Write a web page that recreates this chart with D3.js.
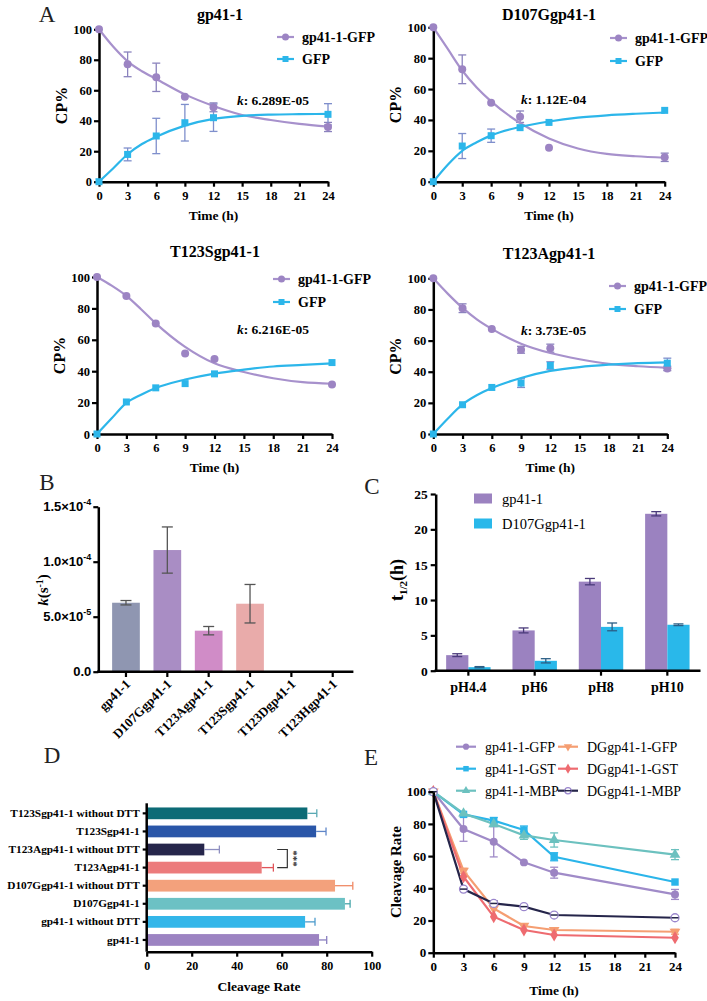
<!DOCTYPE html>
<html>
<head>
<meta charset="utf-8">
<script src="https://cdn.jsdelivr.net/npm/d3@7"></script>
<style>body{margin:0;background:#fff}</style>
</head>
<body>
<script>
// ---------- data ----------
let timePts = [0, 3, 6, 9, 12, 24];
let fitTimes = [0, 1.5, 3, 4.5, 6, 9, 12, 15, 18, 21, 24];
let timeTicks = [0, 3, 6, 9, 12, 15, 18, 21, 24];
let cpTicks = [0, 20, 40, 60, 80, 100];
let aSeriesNames = ['gp41-1-GFP', 'GFP'];

// A: gp41-1
let wtFusion = [100, 77, 68.5, 55.8, 48.8, 35.9];
let wtFusionErr = [0, 8.1, 9.3, 0, 2.9, 3.0];
let wtGfp = [0, 17.9, 30, 38.7, 42, 44.2];
let wtGfpErr = [0, 4.2, 11.6, 12, 9, 7];
let wtFusionFit = [100, 88.5, 79, 72.5, 67.4, 57.3, 49.7, 43.8, 40.5, 37.9, 36.1];
let wtGfpFit = [0, 8.8, 18, 24.7, 29.5, 36.8, 41.2, 43.2, 44, 44.3, 44.5];

// A: D107Ggp41-1
let d107Fusion = [100, 72.8, 51.2, 42.1, 22, 15.8];
let d107FusionErr = [0, 9.3, 0, 3.7, 0, 2.7];
let d107Gfp = [0, 23.1, 29.8, 35, 38.4, 46.2];
let d107GfpErr = [0, 8.1, 4.3, 0, 0, 0];
let d107FusionFit = [100, 86, 72, 61, 52, 38, 28, 21.5, 18, 16.5, 15.5];
let d107GfpFit = [0, 11, 20, 25.5, 30, 35.5, 39, 41.5, 43, 44, 44.8];

// A: T123Sgp41-1
let t123sFusion = [100, 87.9, 70.4, 51.3, 47.7, 31.5];
let t123sFusionErr = [0, 0, 0, 0, 0, 0];
let t123sGfp = [0, 20.4, 29.4, 32.1, 38.3, 45.5];
let t123sGfpErr = [0, 0, 0, 0, 0, 0];
let t123sFusionFit = [100, 94.5, 88, 79.5, 70.5, 55.5, 45, 39.5, 35.5, 33, 32];
let t123sGfpFit = [0, 10, 19.8, 25, 29.3, 34.7, 38.5, 41, 43, 44, 45];

// A: T123Agp41-1
let t123aFusion = [100, 80.8, 67.5, 54.1, 55.1, 42.1];
let t123aFusionErr = [0, 2.8, 0, 2.2, 2.6, 1.4];
let t123aGfp = [0, 18.8, 29.9, 32.7, 44, 45.5];
let t123aGfpErr = [0, 0, 0, 2.8, 2.4, 3.2];
let t123aFusionFit = [100, 90, 81, 73.5, 67.5, 58, 52, 48, 45, 43.5, 42.5];
let t123aGfpFit = [0, 10, 19, 25, 29.5, 36, 40.5, 43, 44.5, 45.5, 46];

let aTitles = ['gp41-1', 'D107Ggp41-1', 'T123Sgp41-1', 'T123Agp41-1'];
let aKValues = ['6.289E-05', '1.12E-04', '6.216E-05', '3.73E-05'];

// B
let bVariants = ['gp41-1', 'D107Ggp41-1', 'T123Agp41-1', 'T123Sgp41-1', 'T123Dgp41-1', 'T123Hgp41-1'];
let bK = [6.27e-5, 1.106e-4, 3.73e-5, 6.18e-5, 0, 0];
let bKErr = [0.2e-5, 2.1e-5, 0.38e-5, 1.75e-5, 0, 0];
let bTicks = [0, 5e-5, 1e-4, 1.5e-4];
let bTickMant = ['0.0', '5.0×10', '1.0×10', '1.5×10'];
let bTickExp = ['', '-5', '-4', '-4'];

// C
let cPh = ['pH4.4', 'pH6', 'pH8', 'pH10'];
let cGroups = ['gp41-1', 'D107Ggp41-1'];
let cWt = [2.2, 5.7, 12.6, 22.2];
let cWtErr = [0.2, 0.35, 0.45, 0.3];
let cD107 = [0.5, 1.4, 6.2, 6.5];
let cD107Err = [0.08, 0.3, 0.55, 0.12];
let cTicks = [0, 5, 10, 15, 20, 25];

// D
let dLabels = ['T123Sgp41-1 without DTT', 'T123Sgp41-1', 'T123Agp41-1 without DTT', 'T123Agp41-1',
               'D107Ggp41-1 without DTT', 'D107Ggp41-1', 'gp41-1 without DTT', 'gp41-1'];
let dRates = [71.4, 75.3, 25.6, 51.1, 83.7, 88.1, 70.4, 76.6];
let dErr = [4.2, 4.4, 6.7, 5.2, 7.9, 2.3, 4.4, 3.4];
let dTicks = [0, 20, 40, 60, 80, 100];

// E
let eNames = ['gp41-1-GFP', 'gp41-1-GST', 'gp41-1-MBP', 'DGgp41-1-GFP', 'DGgp41-1-GST', 'DGgp41-1-MBP'];
let eGfp = [100, 76.8, 68.9, 56.1, 49.7, 36.2];
let eGfpErr = [0, 7.6, 9.4, 0, 3.4, 3.1];
let eGst = [100, 85.9, 82, 76.2, 59.6, 43.9];
let eGstErr = [0, 0, 2, 2.5, 2.5, 0];
let eMbp = [100, 86.5, 79.9, 72.9, 70, 60.9];
let eMbpErr = [0, 0, 0, 2.5, 4.4, 3.1];
let eDgGfp = [100, 50.9, 27.5, 16.6, 14.1, 13];
let eDgGfpErr = [0, 1.5, 0, 0, 0, 1.5];
let eDgGst = [100, 47.2, 22.4, 14.1, 11, 9.3];
let eDgGstErr = [0, 0, 0, 0, 0, 0];
let eDgMbp = [100, 39.5, 30.6, 28.6, 23.4, 21.7];
let eDgMbpErr = [0, 0, 1.5, 0, 0, 0];

// ---------- setup ----------
let serif = '"Liberation Serif", "Times New Roman", serif';
let purple = '#9c84c3';
let purpleLine = '#a791cc';
let blue = '#2cb6ea';

let svg = d3.select('body').append('svg').attr('width', 707).attr('height', 1001)
  .style('font-family', serif);

function styleAxis(g, size) {
  g.select('.domain').attr('stroke', '#000').attr('stroke-width', 2.5);
  g.selectAll('.tick line').attr('stroke', '#000').attr('stroke-width', 2.2);
  g.selectAll('.tick text').attr('font-family', serif).attr('font-weight', 'bold')
    .attr('font-size', size || 12.5).attr('fill', '#000');
}

function panelLetter(txt, x, y) {
  svg.append('text').attr('x', x).attr('y', y).attr('text-anchor', 'middle')
    .attr('font-size', 23).attr('fill', '#222').text(txt);
}

// vertical error bars
function errBars(g, xs, ys, errs, x, y, color, cap) {
  xs.forEach(function (t, i) {
    if (!errs[i]) return;
    let xx = x(t), y1 = y(ys[i] + errs[i]), y2 = y(ys[i] - errs[i]);
    g.append('line').attr('x1', xx).attr('x2', xx).attr('y1', y1).attr('y2', y2)
      .attr('stroke', color).attr('stroke-width', 1.3);
    [y1, y2].forEach(function (yy) {
      g.append('line').attr('x1', xx - cap).attr('x2', xx + cap).attr('y1', yy).attr('y2', yy)
        .attr('stroke', color).attr('stroke-width', 1.3);
    });
  });
}

// ---------- A ----------
let aPanels = [
  {x0: 99, x1: 328, yb: 181.7, yt: 29.3, tx: 220, ty: 20, yl: 62, lx: 277, ly: [37, 59], kx: 237, ky: 105,
   f: wtFusion, fe: wtFusionErr, g: wtGfp, ge: wtGfpErr, ff: wtFusionFit, gf: wtGfpFit},
  {x0: 433.3, x1: 664.7, yb: 181.7, yt: 27.3, tx: 549, ty: 20, yl: 396, lx: 610, ly: [38, 61], kx: 521, ky: 104,
   f: d107Fusion, fe: d107FusionErr, g: d107Gfp, ge: d107GfpErr, ff: d107FusionFit, gf: d107GfpFit},
  {x0: 97, x1: 332, yb: 434, yt: 277, tx: 215, ty: 257, yl: 60, lx: 273, ly: [279, 302], kx: 237, ky: 334,
   f: t123sFusion, fe: t123sFusionErr, g: t123sGfp, ge: t123sGfpErr, ff: t123sFusionFit, gf: t123sGfpFit},
  {x0: 433.3, x1: 667.3, yb: 434, yt: 278.3, tx: 549, ty: 259, yl: 396, lx: 609, ly: [286, 309], kx: 521, ky: 335,
   f: t123aFusion, fe: t123aFusionErr, g: t123aGfp, ge: t123aGfpErr, ff: t123aFusionFit, gf: t123aGfpFit}
];

aPanels.forEach(function (p, idx) {
  let x = d3.scaleLinear().domain([0, 24]).range([p.x0, p.x1]);
  let y = d3.scaleLinear().domain([0, 100]).range([p.yb, p.yt]);
  let g = svg.append('g');

  let gx = g.append('g').attr('transform', 'translate(0,' + p.yb + ')')
    .call(d3.axisBottom(x).tickValues(timeTicks).tickSize(5).tickSizeOuter(0).tickPadding(4));
  styleAxis(gx);
  let gy = g.append('g').attr('transform', 'translate(' + p.x0 + ',0)')
    .call(d3.axisLeft(y).tickValues(cpTicks).tickSize(5).tickSizeOuter(0).tickPadding(2));
  styleAxis(gy);

  g.append('text').attr('x', (p.x0 + p.x1) / 2).attr('y', p.yb + 38).attr('text-anchor', 'middle')
    .attr('font-weight', 'bold').attr('font-size', 13.5).text('Time (h)');
  g.append('text').attr('transform', 'translate(' + (p.yl + 5) + ',' + ((p.yb + p.yt) / 2) + ') rotate(-90)')
    .attr('text-anchor', 'middle').attr('font-weight', 'bold').attr('font-size', 16).text('CP%');
  g.append('text').attr('x', p.tx).attr('y', p.ty).attr('text-anchor', 'middle')
    .attr('font-weight', 'bold').attr('font-size', 16).text(aTitles[idx]);

  let kt = g.append('text').attr('x', p.kx).attr('y', p.ky).attr('font-weight', 'bold').attr('font-size', 13.5);
  kt.append('tspan').attr('font-style', 'italic').text('k');
  kt.append('tspan').text(':  ' + aKValues[idx]);

  let line = d3.line().x(function (d, i) { return x(fitTimes[i]); }).y(function (d) { return y(d); })
    .curve(d3.curveMonotoneX);

  errBars(g, timePts, p.f, p.fe, x, y, '#8a82bd', 4);
  errBars(g, timePts, p.g, p.ge, x, y, '#7f8fcc', 4);

  g.append('path').attr('d', line(p.ff)).attr('fill', 'none').attr('stroke', purpleLine).attr('stroke-width', 2.2);
  g.append('path').attr('d', line(p.gf)).attr('fill', 'none').attr('stroke', blue).attr('stroke-width', 2.2);

  g.selectAll('circle.pt').data(p.f).enter().append('circle')
    .attr('cx', function (d, i) { return x(timePts[i]); }).attr('cy', function (d) { return y(d); })
    .attr('r', 4).attr('fill', purple);
  g.selectAll('rect.pt').data(p.g).enter().append('rect')
    .attr('x', function (d, i) { return x(timePts[i]) - 3.5; }).attr('y', function (d) { return y(d) - 3.5; })
    .attr('width', 7).attr('height', 7).attr('fill', blue);

  // legend
  aSeriesNames.forEach(function (nm, j) {
    let ly = p.ly[j];
    let col = j === 0 ? purpleLine : blue;
    g.append('line').attr('x1', p.lx).attr('x2', p.lx + 17).attr('y1', ly).attr('y2', ly)
      .attr('stroke', col).attr('stroke-width', 2.2);
    if (j === 0) {
      g.append('circle').attr('cx', p.lx + 8.5).attr('cy', ly).attr('r', 3.5).attr('fill', purple);
    } else {
      g.append('rect').attr('x', p.lx + 5.5).attr('y', ly - 3).attr('width', 6).attr('height', 6).attr('fill', blue);
    }
    g.append('text').attr('x', p.lx + 25).attr('y', ly + 5).attr('font-weight', 'bold')
      .attr('font-size', 14).text(nm);
  });
});
panelLetter('A', 47, 22);

// ---------- B ----------
let bColors = ['#8f96b1', '#a98dc4', '#d08cc7', '#e9abaa', '#ccc', '#ccc'];
let bx = d3.scaleBand().domain(bVariants).range([105.3, 353.4]).paddingInner(0.33).paddingOuter(0.165);
let by = d3.scaleLinear().domain([0, 1.5e-4]).range([671.7, 506.7]);
let gB = svg.append('g');

gB.selectAll('rect.bar').data(bK).enter().append('rect')
  .attr('x', function (d, i) { return bx(bVariants[i]); })
  .attr('y', function (d) { return by(d); })
  .attr('width', bx.bandwidth())
  .attr('height', function (d) { return by(0) - by(d); })
  .attr('fill', function (d, i) { return bColors[i]; });
errBars(gB, bVariants, bK, bKErr, function (v) { return bx(v) + bx.bandwidth() / 2; }, by, '#555', 5.5);

let gBy = gB.append('g').attr('transform', 'translate(98.3,0)')
  .call(d3.axisLeft(by).tickValues(bTicks).tickSize(5).tickSizeOuter(0).tickFormat(''));
styleAxis(gBy);
gBy.selectAll('.tick').each(function (d, i) {
  let t = d3.select(this).append('text').attr('x', -7).attr('dy', '0.32em').attr('text-anchor', 'end')
    .attr('font-weight', 'bold').attr('font-size', 13).attr('fill', '#000');
  t.append('tspan').text(bTickMant[i]);
  if (bTickExp[i]) t.append('tspan').attr('dy', -6).attr('font-size', 9).text(bTickExp[i]);
});
gB.append('line').attr('x1', 97).attr('x2', 353.4).attr('y1', 671.7).attr('y2', 671.7)
  .attr('stroke', '#000').attr('stroke-width', 2.5);
gB.selectAll('line.btick').data(bVariants).enter().append('line')
  .attr('x1', function (d) { return bx(d) + bx.bandwidth() / 2; })
  .attr('x2', function (d) { return bx(d) + bx.bandwidth() / 2; })
  .attr('y1', 671.7).attr('y2', 677).attr('stroke', '#000').attr('stroke-width', 2.2);
gB.selectAll('text.blab').data(bVariants).enter().append('text')
  .attr('transform', function (d) { return 'translate(' + (bx(d) + bx.bandwidth() / 2 + 5) + ',685) rotate(-45)'; })
  .attr('text-anchor', 'end').attr('font-weight', 'bold').attr('font-size', 13).text(function (d) { return d; });
let bLab = gB.append('text').attr('transform', 'translate(48,590) rotate(-90)').attr('text-anchor', 'middle')
  .attr('font-weight', 'bold').attr('font-size', 15);
bLab.append('tspan').attr('font-style', 'italic').text('k');
bLab.append('tspan').text('(s');
bLab.append('tspan').attr('dy', -5).attr('font-size', 10).text('-1');
bLab.append('tspan').attr('dy', 5).text(')');
panelLetter('B', 47, 490);

// ---------- C ----------
let cColors = ['#9b82c0', '#29b8ea'];
let cx = d3.scaleBand().domain(cPh).range([435.2, 700.5]).paddingInner(0.33).paddingOuter(0.165);
let cSub = d3.scaleBand().domain(cGroups).range([0, cx.bandwidth()]);
let cy = d3.scaleLinear().domain([0, 25]).range([670.7, 494]);
let gC = svg.append('g');
let cVals = [cWt, cD107];
let cErrs = [cWtErr, cD107Err];
cGroups.forEach(function (grp, j) {
  gC.selectAll('rect.c' + j).data(cVals[j]).enter().append('rect')
    .attr('x', function (d, i) { return cx(cPh[i]) + cSub(grp); })
    .attr('y', function (d) { return cy(d); })
    .attr('width', cSub.bandwidth())
    .attr('height', function (d) { return cy(0) - cy(d); })
    .attr('fill', cColors[j]);
  errBars(gC, cPh, cVals[j], cErrs[j], function (v) { return cx(v) + cSub(grp) + cSub.bandwidth() / 2; },
    cy, j === 0 ? '#4a3a7a' : '#2b5f86', 5);
});
let gCy = gC.append('g').attr('transform', 'translate(435.7,0)')
  .call(d3.axisLeft(cy).tickValues(cTicks).tickSize(5).tickSizeOuter(0).tickPadding(3));
styleAxis(gCy, 13.5);
let gCx = gC.append('g').attr('transform', 'translate(0,670.7)')
  .call(d3.axisBottom(cx).tickSize(5).tickSizeOuter(0).tickPadding(6));
styleAxis(gCx, 14);
gCx.select('.domain').attr('d', 'M434.5,0H700.5');
let cLab = gC.append('text').attr('transform', 'translate(403,580) rotate(-90)').attr('text-anchor', 'middle')
  .attr('font-weight', 'bold').attr('font-size', 18);
cLab.append('tspan').text('t');
cLab.append('tspan').attr('dy', 4).attr('font-size', 11).text('1/2');
cLab.append('tspan').attr('dy', -4).text('(h)');
cGroups.forEach(function (grp, j) {
  let ly = 498.5 + j * 25;
  gC.append('rect').attr('x', 474).attr('y', ly - 5).attr('width', 18).attr('height', 10).attr('fill', cColors[j]);
  gC.append('text').attr('x', 502).attr('y', ly + 5).attr('font-size', 14.5).text(grp);
});
panelLetter('C', 372, 494);

// ---------- D ----------
let dColors = ['#0c6b76', '#2a56a8', '#26264b', '#ec7b7c', '#f3a17c', '#6cc1c4', '#33b6e9', '#9c83c2'];
let dErrColors = ['#5aa9b3', '#5f86c8', '#8e8fc0', '#e0555a', '#f08a66', '#4aa7ab', '#4e9bcc', '#8a7fbf'];
let dy = d3.scaleBand().domain(dLabels).range([804.3, 949]).paddingInner(0.35).paddingOuter(0.175);
let dx = d3.scaleLinear().domain([0, 100]).range([146.7, 371.7]);
let gD = svg.append('g');
gD.selectAll('rect.dbar').data(dRates).enter().append('rect')
  .attr('x', dx(0)).attr('y', function (d, i) { return dy(dLabels[i]); })
  .attr('width', function (d) { return dx(d) - dx(0); }).attr('height', dy.bandwidth())
  .attr('fill', function (d, i) { return dColors[i]; });
dRates.forEach(function (v, i) {
  let yc = dy(dLabels[i]) + dy.bandwidth() / 2;
  gD.append('line').attr('x1', dx(v)).attr('x2', dx(v + dErr[i])).attr('y1', yc).attr('y2', yc)
    .attr('stroke', dErrColors[i]).attr('stroke-width', 1.3);
  gD.append('line').attr('x1', dx(v + dErr[i])).attr('x2', dx(v + dErr[i])).attr('y1', yc - 4).attr('y2', yc + 4)
    .attr('stroke', dErrColors[i]).attr('stroke-width', 1.3);
});
let gDx = gD.append('g').attr('transform', 'translate(0,951.7)')
  .call(d3.axisBottom(dx).tickValues(dTicks).tickSize(5).tickSizeOuter(0).tickPadding(5));
styleAxis(gDx, 12);
let gDy = gD.append('g').attr('transform', 'translate(146.7,0)')
  .call(d3.axisLeft(dy).tickSize(4).tickSizeOuter(0).tickPadding(3));
styleAxis(gDy, 11.3);
gDy.select('.domain').attr('d', 'M0,803.3V951.7');
gD.append('text').attr('x', 259).attr('y', 991).attr('text-anchor', 'middle')
  .attr('font-weight', 'bold').attr('font-size', 13.5).text('Cleavage Rate');
// significance bracket between T123A with / without DTT
let yA = dy(dLabels[2]) + dy.bandwidth() / 2;
let yB = dy(dLabels[3]) + dy.bandwidth() / 2;
gD.append('path').attr('d', 'M' + dx(58) + ',' + yA + 'H' + dx(62.5) + 'V' + yB + 'H' + dx(58))
  .attr('fill', 'none').attr('stroke', '#333').attr('stroke-width', 1.2);
gD.append('text').attr('transform', 'translate(' + (dx(62.5) + 3) + ',' + ((yA + yB) / 2) + ') rotate(90)')
  .attr('text-anchor', 'middle').attr('font-size', 11).attr('font-weight', 'bold').attr('fill', '#333').text('***');
panelLetter('D', 52, 763);

// ---------- E ----------
let eColors = ['#a08bc8', '#2bb5ea', '#6cc1bf', '#f59e72', '#ee6b70', '#25254a'];
let eMarkerColors = ['#9c84c3', '#2bb5ea', '#6cc1bf', '#f59e72', '#ee6b70', '#9a86cc'];
let eSymbols = [d3.symbolCircle, d3.symbolSquare, d3.symbolTriangle, d3.symbolTriangle, d3.symbolDiamond, d3.symbolCircle];
let eVals = [eGfp, eGst, eMbp, eDgGfp, eDgGst, eDgMbp];
let eErrs = [eGfpErr, eGstErr, eMbpErr, eDgGfpErr, eDgGstErr, eDgMbpErr];
let ex = d3.scaleLinear().domain([0, 24]).range([433.3, 675]);
let ey = d3.scaleLinear().domain([0, 100]).range([952.7, 791.7]);
let gE = svg.append('g');
let eLine = d3.line().x(function (d, i) { return ex(timePts[i]); }).y(function (d) { return ey(d); });

function eMarker(g, j, px, py, sz) {
  let sym = d3.symbol().type(eSymbols[j]).size(sz);
  let m = g.append('path').attr('d', sym()).attr('transform', 'translate(' + px + ',' + py + ')' + (j === 3 ? ' rotate(180)' : ''));
  if (j === 5) {
    m.attr('fill', '#fff').attr('stroke', eMarkerColors[j]).attr('stroke-width', 1.3);
    g.append('line').attr('x1', px - 3.5).attr('x2', px + 3.5).attr('y1', py).attr('y2', py)
      .attr('stroke', eColors[j]).attr('stroke-width', 1.5);
  } else {
    m.attr('fill', eMarkerColors[j]);
  }
}

eVals.forEach(function (vals, j) {
  errBars(gE, timePts, vals, eErrs[j], ex, ey, eColors[j], 4);
  gE.append('path').attr('d', eLine(vals)).attr('fill', 'none').attr('stroke', eColors[j]).attr('stroke-width', 2.2);
});
eVals.forEach(function (vals, j) {
  vals.forEach(function (v, i) { eMarker(gE, j, ex(timePts[i]), ey(v), j === 1 ? 55 : 50); });
});
let gEx = gE.append('g').attr('transform', 'translate(0,952.7)')
  .call(d3.axisBottom(ex).tickValues(timeTicks).tickSize(5).tickSizeOuter(0).tickPadding(4));
styleAxis(gEx, 13);
let gEy = gE.append('g').attr('transform', 'translate(433.3,0)')
  .call(d3.axisLeft(ey).tickValues(cpTicks).tickSize(5).tickSizeOuter(0).tickPadding(2));
styleAxis(gEy, 13);
gE.append('text').attr('x', 554).attr('y', 995).attr('text-anchor', 'middle')
  .attr('font-weight', 'bold').attr('font-size', 13.5).text('Time (h)');
gE.append('text').attr('transform', 'translate(401,872) rotate(-90)').attr('text-anchor', 'middle')
  .attr('font-weight', 'bold').attr('font-size', 15).text('Cleavage Rate');
eNames.forEach(function (nm, j) {
  let col = Math.floor(j / 3), row = j % 3;
  let lx = col === 0 ? 456 : 558, ly = 746.7 + row * 22;
  gE.append('line').attr('x1', lx).attr('x2', lx + 20).attr('y1', ly).attr('y2', ly)
    .attr('stroke', eColors[j]).attr('stroke-width', 2.2);
  eMarker(gE, j, lx + 10, ly, 30);
  gE.append('text').attr('x', lx + 29).attr('y', ly + 5).attr('font-size', 14).text(nm);
});
panelLetter('E', 371, 765);
</script>
</body>
</html>
